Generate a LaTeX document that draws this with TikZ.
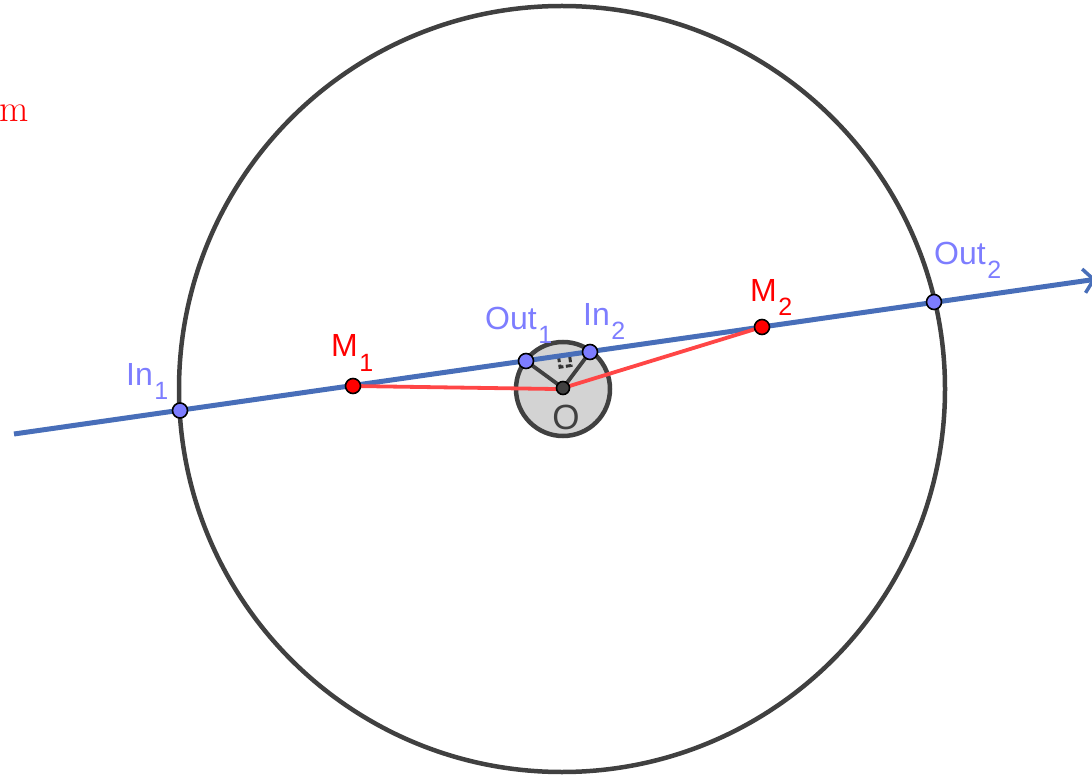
\documentclass[tikz,border=0pt]{standalone}
\usepackage{fontspec}
\newfontfamily\lab{Liberation Sans}
\usetikzlibrary{arrows.meta,calc}
\definecolor{lineblue}{RGB}{72,110,185}
\definecolor{ptblue}{RGB}{125,125,255}
\definecolor{ptred}{RGB}{255,0,0}
\definecolor{redline}{RGB}{255,70,70}
\definecolor{dgray}{RGB}{64,64,64}
\definecolor{lgray}{RGB}{211,211,211}
\newcommand{\lbl}[2]{{\lab\fontsize{32}{32}\selectfont #1\hspace{1.5pt}\raisebox{-14pt}{\fontsize{25}{25}\selectfont #2}}}
\tikzset{
  bpt/.style={circle,draw=black,line width=1.6pt,fill=ptblue,inner sep=0pt,minimum size=15pt},
  rpt/.style={circle,draw=black,line width=1.6pt,fill=ptred,inner sep=0pt,minimum size=15pt},
  opt/.style={circle,draw=black,line width=1.6pt,fill=dgray,inner sep=0pt,minimum size=13pt},
  lblue/.style={text=ptblue,anchor=base west,inner sep=0pt},
  lred/.style={text=ptred,anchor=base west,inner sep=0pt},
  circ/.style={draw=dgray,line width=4.5pt},
  mainline/.style={draw=lineblue,line width=5pt},
  redseg/.style={draw=redline,line width=3.8pt},
  spoke/.style={draw=dgray,line width=3.8pt},
  rmark/.style={draw=dgray!80!black,line width=3pt,dash pattern=on 6pt off 2.5pt}
}
\begin{document}
\begin{tikzpicture}[x=1pt,y=-1pt]
\useasboundingbox (0,0) rectangle (1092,775);
\clip (0,0) rectangle (1092,775);
% circles
\node[circ,circle,minimum size=766pt,inner sep=0pt] (big) at (562,389) {};
\node[circ,circle,fill=lgray,minimum size=94pt,inner sep=0pt] (small) at (563,389) {};
% coordinates of the line
\coordinate (s) at (14,434);
\coordinate (e) at (1096,279.2);
% right angle mark
\coordinate (F) at (558.5,356.2);
\draw[rmark]
  (F) -- ($(F)+(1.56,11)$) -- ($(F)+(12.5,9.3)$) -- ($(F)+(10.9,-1.7)$) -- cycle;
% spokes
\coordinate (Oc) at (563,388);
\coordinate (Out1c) at (526,361);
\coordinate (In2c) at (590,352);
\draw[spoke] (Oc) -- (Out1c);
\draw[spoke] (Oc) -- (In2c);
% main line
\draw[mainline,-{Straight Barb[length=10pt,width=24pt,line width=3.5pt]}] (s) -- (e);
% red segments
\coordinate (M1c) at (353,386);
\coordinate (M2c) at (762,327);
\draw[redseg] (M1c) -- (555,389) -- (Oc) -- (M2c);
% points
\node[bpt] (In1) at (180,410.5) {};
\node[rpt] (M1) at (353,386) {};
\node[bpt] (Out1) at (526,361) {};
\node[bpt] (In2) at (590,352) {};
\node[rpt] (M2) at (762,327) {};
\node[bpt] (Out2) at (934,302) {};
\node[opt] (O) at (563,388) {};
% labels
\node[lblue] (lIn1) at (126,385) {\lbl{In}{1}};
\node[lred] (lM1) at (331,357) {\lbl{M}{1}};
\node[lblue] (lOut1) at (485,330) {\lbl{Out}{1}};
\node[lblue] (lIn2) at (583,326) {\lbl{In}{2}};
\node[lred] (lM2) at (750,302) {\lbl{M}{2}};
\node[lblue] (lOut2) at (934,265) {\lbl{Out}{2}};
\node[text=dgray,anchor=base,inner sep=0pt] (lO) at (566,429) {\lab\fontsize{35}{35}\selectfont O};
\node[text=ptred,anchor=base east,inner sep=0pt] (m) at (29,122) {\fontsize{38}{38}\selectfont m};
\end{tikzpicture}
\end{document}
